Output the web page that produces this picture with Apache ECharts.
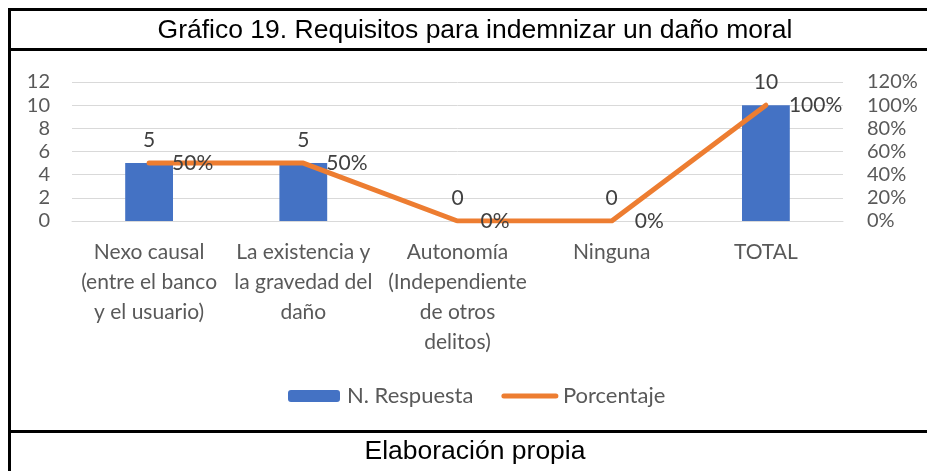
<!DOCTYPE html>
<html>
<head>
<meta charset="utf-8">
<script src="https://cdn.jsdelivr.net/npm/echarts@6/dist/echarts.min.js"></script>
<style>
  html, body { margin:0; padding:0; background:#fff; }
  body { width:927px; height:471px; position:relative; overflow:hidden; }
  #chart { position:absolute; left:0; top:0; width:927px; height:471px; }
  .ln { position:absolute; background:#000; }
  .txt { position:absolute; left:8px; width:934px; text-align:center; font-family:"Liberation Sans", Arial, sans-serif; color:#000; }
</style>
</head>
<body>
<div id="chart"></div>
<div class="ln" style="left:8px; top:8px; width:930px; height:3px;"></div>
<div class="ln" style="left:8px; top:8px; width:3px; height:470px;"></div>
<div class="ln" style="left:8px; top:48px; width:930px; height:3px;"></div>
<div class="ln" style="left:8px; top:430px; width:930px; height:3px;"></div>
<div class="txt" style="top:14px; font-size:26.5px; line-height:30px;">Gráfico 19. Requisitos para indemnizar un daño moral</div>
<div class="txt" style="top:435px; font-size:26.5px; line-height:30px;">Elaboración propia</div>
<script>
const categories = [
  "Nexo causal\n(entre el banco\ny el usuario)",
  "La existencia y\nla gravedad del\ndaño",
  "Autonomía\n(Independiente\nde otros\ndelitos)",
  "Ninguna",
  "TOTAL"
];
const respuestas = [5, 5, 0, 0, 10];
const porcentajes = [0.5, 0.5, 0, 0, 1];
const leftTicks = { min: 0, max: 12, interval: 2 };
const rightTicks = { min: 0, max: 1.2, interval: 0.2 };

const FONT = "Lato, 'Open Sans', sans-serif";
const GRAY = "#595959";
const pct = v => Math.round(v * 100) + '%';
const chart = echarts.init(document.getElementById('chart'), null, { renderer: 'canvas' });
chart.setOption({
  animation: false,
  textStyle: { fontFamily: FONT },
  grid: { left: 72, width: 771, top: 82, height: 139, containLabel: false },
  legend: {
    data: [
      { name: 'N. Respuesta' },
      { name: 'Porcentaje', itemStyle: { color: 'rgba(0,0,0,0)', borderWidth: 0 } }
    ],
    left: 283,
    top: 380,
    itemWidth: 52,
    itemHeight: 12,
    itemGap: 28,
    lineStyle: { width: 5, cap: 'round' },
    textStyle: { fontFamily: FONT, fontSize: 22, color: GRAY, padding: [0, 0, 0, 2] }
  },
  xAxis: {
    type: 'category',
    data: categories,
    axisLine: { lineStyle: { color: '#d9d9d9', width: 1 } },
    axisTick: { show: false },
    axisLabel: { interval: 0, fontFamily: FONT, fontSize: 21, lineHeight: 30, color: GRAY, margin: 16 }
  },
  yAxis: [
    {
      type: 'value', min: leftTicks.min, max: leftTicks.max, interval: leftTicks.interval,
      axisLine: { show: false }, axisTick: { show: false },
      splitLine: { lineStyle: { color: '#d9d9d9', width: 1 } },
      axisLabel: { fontFamily: FONT, fontSize: 20, color: GRAY, margin: 22 }
    },
    {
      type: 'value', min: rightTicks.min, max: rightTicks.max, interval: rightTicks.interval,
      axisLine: { show: false }, axisTick: { show: false },
      splitLine: { show: false },
      axisLabel: { fontFamily: FONT, fontSize: 20, color: GRAY, margin: 24, formatter: pct }
    }
  ],
  series: [
    {
      name: 'N. Respuesta',
      type: 'bar',
      data: respuestas,
      barWidth: '31%',
      itemStyle: { color: '#4472C4' },
      label: { show: true, position: 'top', distance: 12, fontFamily: FONT, fontSize: 21, color: '#404040' }
    },
    {
      name: 'Porcentaje',
      type: 'line',
      yAxisIndex: 1,
      data: porcentajes,
      symbol: 'none',
      lineStyle: { color: '#ED7D31', width: 5, cap: 'round', join: 'round' },
      itemStyle: { color: '#ED7D31' }
    },
    {
      name: 'Porcentaje etiquetas',
      type: 'scatter',
      yAxisIndex: 1,
      data: porcentajes,
      symbolSize: 2,
      itemStyle: { color: 'rgba(0,0,0,0)' },
      silent: true,
      z: 5,
      label: { show: true, position: 'right', distance: 22, opacity: 1, fontFamily: FONT, fontSize: 21, color: '#404040', formatter: p => pct(p.value) }
    }
  ]
});
</script>
</body>
</html>
